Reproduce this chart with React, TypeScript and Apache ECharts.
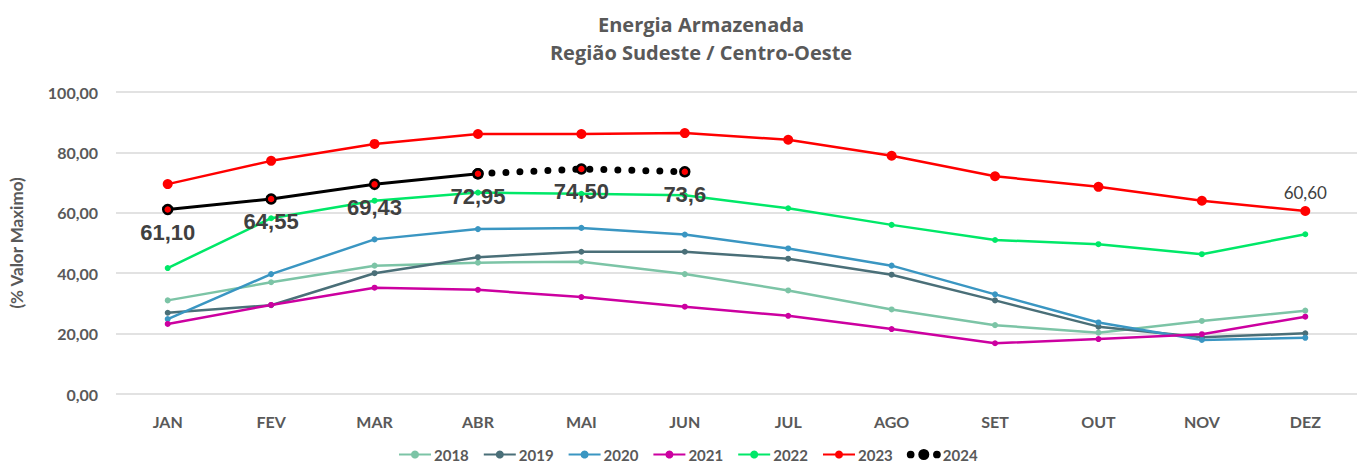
import React, { useEffect, useRef } from "react";
import * as echarts from "echarts";

const months = ["JAN", "FEV", "MAR", "ABR", "MAI", "JUN", "JUL", "AGO", "SET", "OUT", "NOV", "DEZ"];
const s2018 = [31.0, 37.0, 42.5, 43.5, 43.8, 39.7, 34.3, 28.0, 22.8, 20.3, 24.2, 27.6];
const s2019 = [26.9, 29.4, 40.0, 45.3, 47.1, 47.1, 44.8, 39.5, 31.0, 22.3, 18.8, 20.1];
const s2020 = [24.8, 39.7, 51.2, 54.6, 55.0, 52.8, 48.2, 42.5, 33.0, 23.7, 17.9, 18.6];
const s2021 = [23.2, 29.5, 35.2, 34.5, 32.1, 28.9, 25.9, 21.5, 16.8, 18.2, 19.8, 25.6];
const s2022 = [41.7, 58.2, 64.0, 66.7, 66.3, 65.8, 61.5, 56.0, 51.0, 49.6, 46.3, 52.9];
const s2023 = [69.5, 77.2, 82.8, 86.1, 86.1, 86.4, 84.2, 78.9, 72.1, 68.6, 64.0, 60.6];
const s2024 = [61.10, 64.55, 69.43, 72.95, 74.50, 73.6];
const s2024Labels = ["61,10", "64,55", "69,43", "72,95", "74,50", "73,6"];
const dez2023Label = "60,60";
const solidEndIndex = 3; // 2024 solid through ABR, dotted after
const legendNames = ["2018", "2019", "2020", "2021", "2022", "2023", "2024"];

const CAL = "Lato, 'Open Sans', sans-serif";
const ARIAL = "'Liberation Sans', Arial, sans-serif";
const DOTS_ICON =
  "path://M0.5,6a3.5,3.5 0 1,0 7,0a3.5,3.5 0 1,0 -7,0Z M14.5,6a5.5,5.5 0 1,0 11,0a5.5,5.5 0 1,0 -11,0Z M32.5,6a3.5,3.5 0 1,0 7,0a3.5,3.5 0 1,0 -7,0Z";

export default function App() {
  const ref = useRef<HTMLDivElement>(null);
  useEffect(() => {
    document.body.style.margin = "0";
    if (!ref.current) return;
    const chart = echarts.init(ref.current, undefined, { renderer: "svg" });

    const simple = (name: string, data: number[], color: string, size = 6, width = 2.5) => ({
      name,
      type: "line",
      data,
      symbol: "circle",
      symbolSize: size,
      showSymbol: true,
      itemStyle: { color },
      lineStyle: { color, width },
      z: 2,
    });

    const solidData = s2024.map((v, i) => (i <= solidEndIndex ? { value: v } : null));
    const dotted2024 = s2024.map((v, i) =>
      i >= solidEndIndex ? { value: v, label: { show: i > solidEndIndex } } : null
    );

    const label2024 = {
      show: true,
      position: "bottom",
      distance: 6,
      fontFamily: ARIAL,
      fontWeight: "bold",
      fontSize: 22,
      color: "#404040",
      formatter: (p: any) => s2024Labels[p.dataIndex],
    };

    const option: any = {
      animation: false,
      backgroundColor: "#ffffff",
      title: {
        text: "Energia Armazenada\nRegião Sudeste / Centro-Oeste",
        left: 696,
        top: 5,
        textAlign: "center",
        textStyle: {
          fontFamily: "'Open Sans', Lato, sans-serif",
          fontWeight: "bold",
          fontSize: 20,
          lineHeight: 28,
          color: "#595959",
        },
      },
      grid: { left: 116, top: 92, width: 1249, height: 302, containLabel: false },
      legend: {
        bottom: 0,
        left: 393,
        padding: [2, 5, 1, 5],
        itemGap: 14,
        itemWidth: 32,
        itemHeight: 10,
        data: legendNames.map((n) =>
          n === "2024"
            ? { name: n, icon: DOTS_ICON, itemStyle: { color: "#000000" } }
            : { name: n }
        ),
        textStyle: { fontFamily: CAL, fontWeight: "bold", fontSize: 15, color: "#595959", padding: [0, 0, 0, -2] },
      },
      xAxis: {
        type: "category",
        data: months,
        boundaryGap: true,
        axisLine: { show: false },
        axisTick: { show: false },
        axisLabel: {
          margin: 19,
          fontFamily: CAL,
          fontWeight: "bold",
          fontSize: 16,
          color: "#595959",
        },
      },
      yAxis: {
        type: "value",
        min: 0,
        max: 100,
        interval: 20,
        name: "(% Valor Maximo)",
        nameLocation: "middle",
        nameGap: 91,
        nameRotate: 90,
        nameTextStyle: { fontFamily: CAL, fontWeight: "bold", fontSize: 17, color: "#595959" },
        axisLine: { show: false },
        axisTick: { show: false },
        splitLine: { lineStyle: { color: "#d9d9d9", width: 1.5 } },
        axisLabel: {
          margin: 18,
          fontFamily: CAL,
          fontWeight: "bold",
          fontSize: 16,
          color: "#595959",
          formatter: (v: number) => v.toFixed(2).replace(".", ","),
        },
      },
      series: [
        simple("2018", s2018, "#7cc4a6"),
        simple("2019", s2019, "#4a6f78"),
        simple("2020", s2020, "#3a96c2"),
        simple("2021", s2021, "#cc00a0"),
        simple("2022", s2022, "#00e868"),
        {
          ...simple("2023", s2023, "#ff0000", 10, 2.5),
          label: {
            show: true,
            position: "top",
            distance: 5,
            fontFamily: CAL,
            fontSize: 17,
            color: "#404040",
            formatter: (p: any) => (p.dataIndex === s2023.length - 1 ? dez2023Label : ""),
          },
          z: 3,
        },
        {
          name: "2024 solid",
          type: "line",
          data: solidData,
          symbol: "circle",
          symbolSize: 9,
          itemStyle: { color: "#ff0000", borderColor: "#000000", borderWidth: 2.5 },
          lineStyle: { color: "#000000", width: 3 },
          label: label2024,
          z: 5,
        },
        {
          name: "2024",
          type: "line",
          data: dotted2024,
          symbol: "circle",
          symbolSize: 9,
          itemStyle: { color: "#ff0000", borderColor: "#000000", borderWidth: 2.5 },
          lineStyle: { color: "#000000", width: 7, type: [0, 14], cap: "round" },
          label: { ...label2024, show: false },
          z: 5,
        },
      ],
    };
    chart.setOption(option);
    return () => chart.dispose();
  }, []);
  return <div ref={ref} style={{ width: 1357, height: 463 }} />;
}
